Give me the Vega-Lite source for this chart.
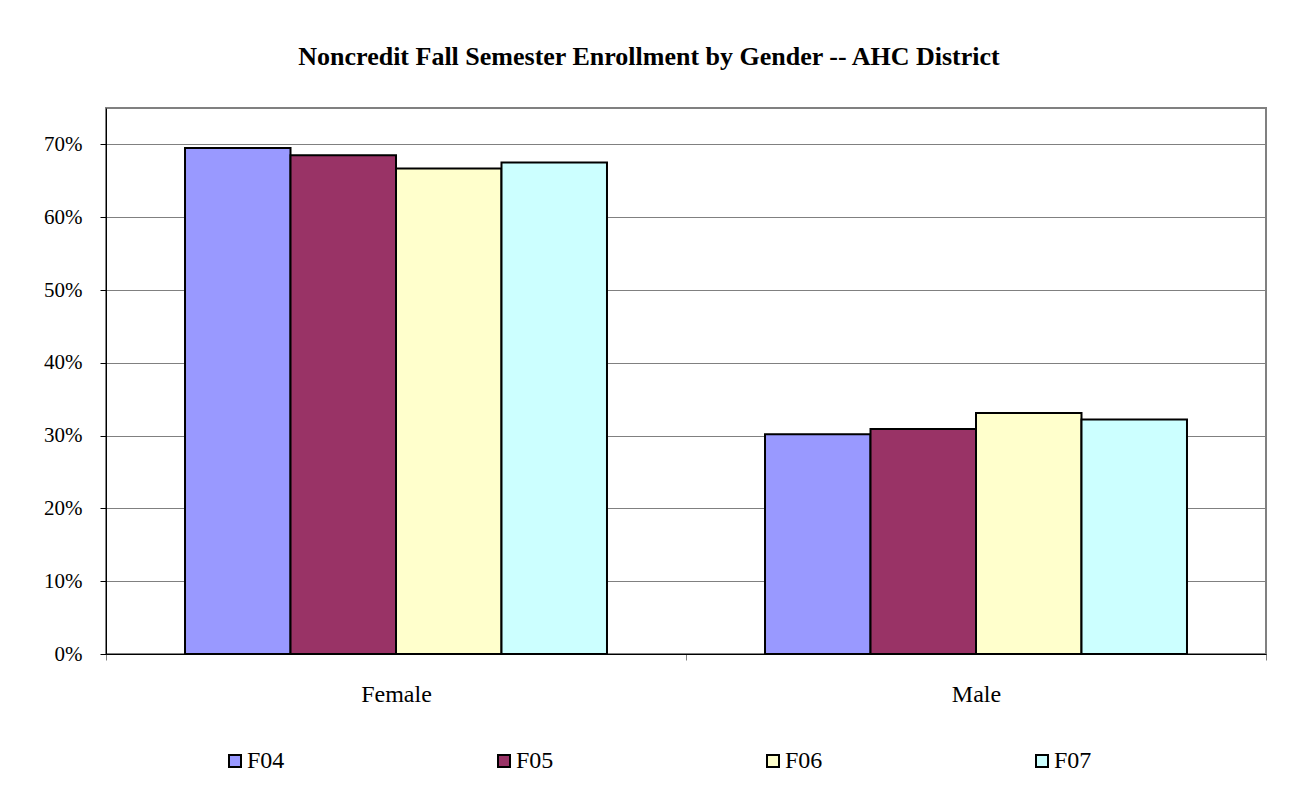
{
  "$schema": "https://vega.github.io/schema/vega-lite/v6.json",
  "autosize": {"type": "none"},
  "padding": {"left": 106, "top": 108, "right": 29, "bottom": 144},
  "width": 1160,
  "height": 546,
  "background": "white",
  "title": {
    "text": "Noncredit Fall Semester Enrollment by Gender -- AHC District",
    "font": "Liberation Serif",
    "fontSize": 26,
    "fontWeight": "bold",
    "color": "black",
    "anchor": "middle",
    "dx": -37,
    "offset": 38
  },
  "data": {
    "values": [
      {"gender": "Female", "term": "F04", "pct": 0.695},
      {"gender": "Female", "term": "F05", "pct": 0.685},
      {"gender": "Female", "term": "F06", "pct": 0.667},
      {"gender": "Female", "term": "F07", "pct": 0.675},
      {"gender": "Male", "term": "F04", "pct": 0.302},
      {"gender": "Male", "term": "F05", "pct": 0.309},
      {"gender": "Male", "term": "F06", "pct": 0.331},
      {"gender": "Male", "term": "F07", "pct": 0.322}
    ]
  },
  "mark": {"type": "bar", "stroke": "black", "strokeWidth": 2},
  "encoding": {
    "x": {
      "field": "gender",
      "type": "nominal",
      "title": null,
      "scale": {"paddingInner": 0, "paddingOuter": 0},
      "axis": {
        "labelAngle": 0,
        "labelFont": "Liberation Serif",
        "labelFontSize": 24,
        "labelColor": "black",
        "labelPadding": 22,
        "domainColor": "black",
        "domainWidth": 1,
        "tickColor": "#808080",
        "tickSize": 6,
        "tickBand": "extent",
        "grid": false
      }
    },
    "xOffset": {"field": "term", "type": "nominal", "scale": {"paddingInner": 0, "paddingOuter": 0.749}},
    "y": {
      "field": "pct",
      "type": "quantitative",
      "title": null,
      "scale": {"domain": [0, 0.75], "nice": false},
      "axis": {
        "values": [0, 0.1, 0.2, 0.3, 0.4, 0.5, 0.6, 0.7],
        "format": ".0%",
        "labelFont": "Liberation Serif",
        "labelFontSize": 21,
        "labelColor": "black",
        "labelPadding": 18,
        "domainColor": "black",
        "tickColor": "black",
        "tickSize": 6,
        "grid": true,
        "gridColor": "#808080",
        "gridWidth": 1
      }
    },
    "color": {
      "field": "term",
      "type": "nominal",
      "title": null,
      "scale": {"domain": ["F04", "F05", "F06", "F07"], "range": ["#9999FF", "#993366", "#FFFFCC", "#CCFFFF"]},
      "legend": {
        "orient": "none",
        "direction": "horizontal",
        "legendX": 117,
        "legendY": 641,
        "symbolType": "square",
        "symbolSize": 144,
        "symbolStrokeColor": "black",
        "symbolStrokeWidth": 2,
        "symbolOpacity": 1,
        "labelFont": "Liberation Serif",
        "labelFontSize": 24,
        "labelColor": "black",
        "labelOffset": 0,
        "columnPadding": 207
      }
    }
  },
  "config": {
    "view": {"stroke": "#808080", "strokeWidth": 2},
    "axis": {"labelFont": "Liberation Serif"}
  }
}
